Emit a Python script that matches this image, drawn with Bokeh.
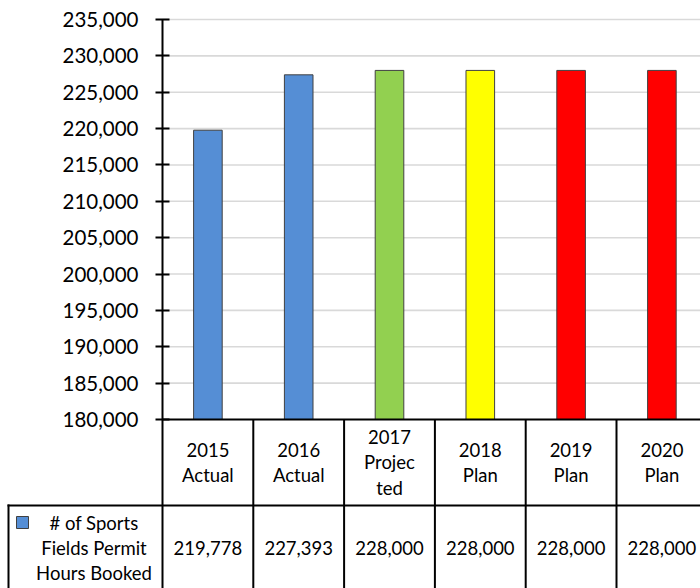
from bokeh.plotting import figure
from bokeh.models import (Range1d, FixedTicker, NumeralTickFormatter, ColumnDataSource,
                          LinearAxis)
from bokeh.embed import file_html
from bokeh.resources import INLINE
from bokeh.core.properties import value

# ---------------- data ----------------
categories = ["2015\nActual", "2016\nActual", "2017\nProjec\nted",
              "2018\nPlan", "2019\nPlan", "2020\nPlan"]
hours_booked = [219778, 227393, 228000, 228000, 228000, 228000]
bar_colors = ["#558ED5", "#558ED5", "#92D050", "#FFFF00", "#FF0000", "#FF0000"]
series_name = "# of Sports\nFields Permit\nHours Booked"
y_ticks = list(range(180000, 235001, 5000))

# ---------------- layout (page pixels) ----------------
W, H = 700, 588
AXIS_X = 162          # y-axis position
TOP_Y = 19            # pixel row of the highest tick
COL = 90.8            # width of one category column
Y_MIN, Y_MAX = y_ticks[0], y_ticks[-1]
ppu = 400 / (Y_MAX - Y_MIN)          # 180k..235k spans 400 px

FONT = "Lato"
TXT = "18.5px"
LH = 1.15


def ydat(py):
    """page pixel row -> data y"""
    return Y_MAX - (py - TOP_Y) / ppu


def xcol(px):
    """page pixel column -> category units"""
    return (px - AXIS_X) / COL


x_end = xcol(W)
xs = [i + 0.5 for i in range(len(categories))]
src = ColumnDataSource(dict(x=xs, top=hours_booked, color=bar_colors, cat=categories,
                            lab=[f"{v:,}" for v in hours_booked]))

p = figure(width=W, height=H, x_range=Range1d(xcol(0), x_end),
           y_range=Range1d(ydat(H), ydat(0)),
           x_axis_location=None, y_axis_location=None,
           output_backend="svg", toolbar_location=None, min_border=0)
p.outline_line_color = None
for g in list(p.xgrid) + list(p.ygrid):
    g.visible = False

yax = LinearAxis(ticker=FixedTicker(ticks=y_ticks),
                 formatter=NumeralTickFormatter(format="0,0"),
                 fixed_location=0, bounds=(ydat(H), Y_MAX))
yax.major_label_text_font = FONT
yax.major_label_text_font_size = "20.5px"
yax.major_label_text_color = "black"
yax.axis_line_width = 2
yax.axis_line_color = "black"
yax.major_tick_line_width = 2
yax.major_tick_line_color = "black"
yax.major_tick_in = 7
yax.major_tick_out = 7
yax.minor_tick_line_color = None
yax.major_label_standoff = 17
p.add_layout(yax, "left")

# horizontal grid lines (plot area only)
grid_y = y_ticks[1:]
p.segment(x0=[0] * len(grid_y), y0=grid_y, x1=[x_end] * len(grid_y), y1=grid_y,
          line_color="#D9D9D9", line_width=1.6)

# bars
p.vbar(x="x", top="top", bottom=Y_MIN, width=0.315, source=src,
       fill_color="color", line_color="#404040", line_width=1)

# data table borders
vx = list(range(1, len(categories) + 1))
p.segment(x0=[0, xcol(7)], y0=[Y_MIN, ydat(505)], x1=[x_end, x_end],
          y1=[Y_MIN, ydat(505)], line_color="black", line_width=2)
p.segment(x0=vx, y0=[ydat(H + 5)] * len(vx), x1=vx, y1=[Y_MIN] * len(vx),
          line_color="black", line_width=2)
p.segment(x0=[xcol(8)], y0=[ydat(504)], x1=[xcol(8)], y1=[ydat(H + 5)],
          line_color="black", line_width=2)

# table texts
p.text(x="x", y=ydat(462), text="cat", source=src, text_align="center",
       text_baseline="middle", text_font=value(FONT), text_font_size=TXT,
       text_color="black", text_line_height=LH)
p.text(x="x", y=ydat(547), text="lab", source=src, text_align="center",
       text_baseline="middle", text_font=value(FONT), text_font_size=TXT,
       text_color="black")

# legend key + series name
p.quad(left=[xcol(16)], right=[xcol(28)], top=[ydat(516)], bottom=[ydat(528)],
       fill_color=bar_colors[0], line_color="#404040", line_width=1)
p.text(x=[xcol(93.5)], y=[ydat(547.3)], text=[series_name], text_align="center",
       text_baseline="middle", text_font=value(FONT), text_font_size=TXT,
       text_color="black", text_line_height=LH)

open("out.html", "w").write(file_html(p, INLINE))
